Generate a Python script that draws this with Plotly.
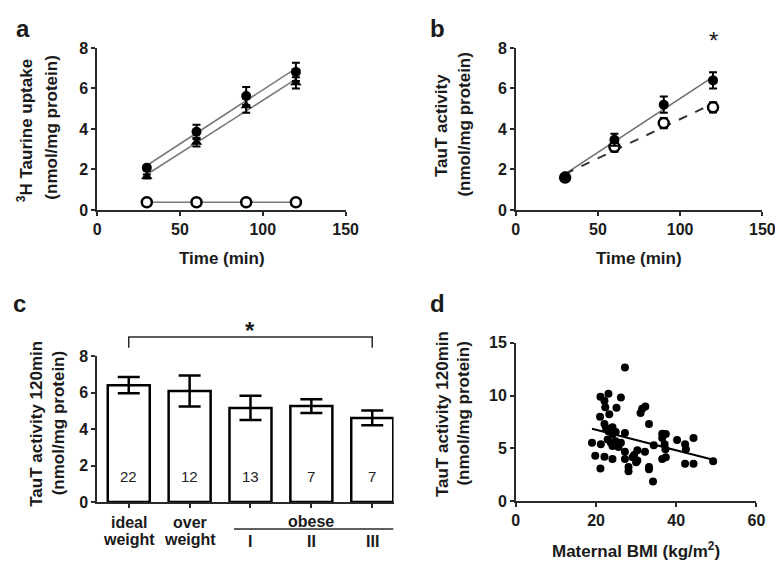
import numpy as np
import plotly.graph_objects as go

W, H = 783, 564

# ---------------- data ----------------
# Panel a: 3H taurine uptake vs time
time_a = [30, 60, 90, 120]
uptake_circle = [2.08, 3.86, 5.63, 6.82]
uptake_circle_err = [0.12, 0.35, 0.45, 0.45]
uptake_triangle = [1.65, 3.35, 5.15, 6.28]
uptake_triangle_err = [0.1, 0.22, 0.35, 0.28]
uptake_open = [0.38, 0.38, 0.38, 0.38]
uptake_open_err = [0.03, 0.03, 0.03, 0.03]

# Panel b: TauT activity vs time
time_b = [30, 60, 90, 120]
taut_filled = [1.65, 3.47, 5.2, 6.4]
taut_filled_err = [0.1, 0.3, 0.4, 0.4]
taut_open = [1.6, 3.12, 4.29, 5.07]
taut_open_err = [0.1, 0.25, 0.25, 0.25]

# Panel c: TauT activity at 120 min by BMI group
bmi_groups = ["ideal<br>weight", "over<br>weight", "I", "II", "III"]
group_mean = [6.42, 6.1, 5.17, 5.27, 4.62]
group_err = [0.45, 0.85, 0.67, 0.38, 0.4]
group_n = ["22", "12", "13", "7", "7"]

# Panel d: TauT activity vs maternal BMI
bmi = [27.2, 21.1, 23.1, 26.2, 22.1, 22.3, 25.1, 31.5, 32.3, 31.1,
       23.3, 21.0, 33.2, 22.1, 22.5, 24.1, 23.1, 24.9, 24.1, 27.2,
       36.5, 37.4, 36.5, 40.2, 44.3, 19.0, 21.2, 22.9, 23.7, 24.9,
       26.2, 24.1, 25.6, 34.4, 37.1, 37.3, 42.2, 42.4, 27.2, 30.3,
       32.2, 29.5, 19.8, 22.1, 24.1, 27.2, 29.1, 30.3, 36.5, 37.4,
       42.2, 44.3, 49.2, 21.1, 28.1, 28.1, 33.2, 33.2, 34.2, 30.0]
activity = [12.67, 9.88, 10.18, 9.82, 9.5, 8.9, 8.83, 8.74, 8.96, 8.34,
            8.22, 7.98, 7.3, 7.3, 6.9, 7.0, 6.6, 6.53, 6.3, 6.44,
            6.38, 6.35, 5.98, 5.77, 5.98, 5.52, 5.37, 5.83, 5.52, 5.67,
            5.52, 5.21, 5.12, 5.28, 5.37, 4.91, 5.37, 4.91, 4.66, 4.82,
            4.66, 4.36, 4.29, 4.2, 3.99, 3.99, 4.14, 3.83, 3.99, 4.14,
            3.53, 3.53, 3.77, 3.07, 3.22, 2.82, 3.22, 3.0, 1.84, 3.68]

# ---------------- styling ----------------
FONT = "Arial, Liberation Sans, sans-serif"
TXT = "#1a1a1a"
AX = "#2a2a2a"
TITLE_SIZE = 17


def fit_line(x, y, xs):
    k, b = np.polyfit(x, y, 1)
    xs = np.asarray(xs, dtype=float)
    return xs, k * xs + b


def px(x):
    return x / W


def py(y):
    return 1 - y / H


fig = go.Figure()

# ---- panel a ----
for ys in (uptake_circle, uptake_triangle):
    lx, ly = fit_line(time_a, ys, [min(time_a), max(time_a)])
    fig.add_trace(go.Scatter(x=lx, y=ly, mode="lines", line=dict(color="#7a7a7a", width=1.6),
                             xaxis="x", yaxis="y", hoverinfo="skip"))
fig.add_trace(go.Scatter(x=time_a, y=uptake_open, mode="lines", line=dict(color="#7a7a7a", width=1.6),
                         xaxis="x", yaxis="y", hoverinfo="skip"))
fig.add_trace(go.Scatter(x=time_a, y=uptake_triangle, mode="markers",
                         marker=dict(symbol="triangle-up", size=10, color="black"),
                         error_y=dict(type="data", array=uptake_triangle_err, color="black", thickness=2, width=4),
                         xaxis="x", yaxis="y"))
fig.add_trace(go.Scatter(x=time_a, y=uptake_circle, mode="markers",
                         marker=dict(symbol="circle", size=10, color="black"),
                         error_y=dict(type="data", array=uptake_circle_err, color="black", thickness=2, width=4),
                         xaxis="x", yaxis="y"))
fig.add_trace(go.Scatter(x=time_a, y=uptake_open, mode="markers",
                         marker=dict(symbol="circle", size=10, color="white", line=dict(color="black", width=2.5)),
                         error_y=dict(type="data", array=uptake_open_err, color="black", thickness=1, width=0),
                         xaxis="x", yaxis="y"))

# ---- panel b ----
lx, ly = fit_line(time_b, taut_filled, [min(time_b), max(time_b)])
fig.add_trace(go.Scatter(x=lx, y=ly, mode="lines", line=dict(color="#6f6f6f", width=1.6),
                         xaxis="x2", yaxis="y2", hoverinfo="skip"))
lx, ly = fit_line(time_b, taut_open, [min(time_b), max(time_b)])
fig.add_trace(go.Scatter(x=lx, y=ly, mode="lines", line=dict(color="#333333", width=2, dash="dash"),
                         xaxis="x2", yaxis="y2", hoverinfo="skip"))
fig.add_trace(go.Scatter(x=time_b, y=taut_open, mode="markers",
                         marker=dict(symbol="circle", size=10, color="white", line=dict(color="black", width=2.5)),
                         error_y=dict(type="data", array=taut_open_err, color="black", thickness=2, width=4),
                         xaxis="x2", yaxis="y2"))
fig.add_trace(go.Scatter(x=time_b, y=taut_filled, mode="markers",
                         marker=dict(symbol="circle", size=10, color="black"),
                         error_y=dict(type="data", array=taut_filled_err, color="black", thickness=2, width=4),
                         xaxis="x2", yaxis="y2"))

# ---- panel c ----
idx = list(range(len(group_mean)))
fig.add_trace(go.Bar(x=idx, y=group_mean, width=0.69,
                     marker=dict(color="white", line=dict(color="black", width=2.5)),
                     error_y=dict(type="data", array=group_err, color="black", thickness=2.5, width=11),
                     xaxis="x3", yaxis="y3"))

# ---- panel d ----
fig.add_trace(go.Scatter(x=bmi, y=activity, mode="markers",
                         marker=dict(symbol="circle", size=8, color="black"),
                         xaxis="x4", yaxis="y4"))
lx, ly = fit_line(bmi, activity, [min(bmi), max(bmi)])
fig.add_trace(go.Scatter(x=lx, y=ly, mode="lines", line=dict(color="black", width=2),
                         xaxis="x4", yaxis="y4", hoverinfo="skip"))

# ---------------- axes ----------------
tickfont = dict(family=FONT, size=16, color=TXT, weight="bold")
common = dict(showline=True, linecolor=AX, linewidth=1.5, ticks="outside", ticklen=4,
              tickwidth=1.5, tickcolor=AX, showgrid=False, zeroline=False, tickfont=tickfont)

fig.update_layout(
    xaxis=dict(domain=[px(87), px(341)], range=[0, 150], tickvals=[0, 50, 100, 150], anchor="y", **common),
    yaxis=dict(domain=[py(200), py(33)], range=[0, 8], tickvals=[0, 2, 4, 6, 8], anchor="x", **common),
    xaxis2=dict(domain=[px(515), px(767)], range=[0, 150], tickvals=[0, 50, 100, 150], anchor="y2", **common),
    yaxis2=dict(domain=[py(200), py(33)], range=[0, 8], tickvals=[0, 2, 4, 6, 8], anchor="x2", **common),
    xaxis3=dict(domain=[px(87), px(390)], range=[-0.52, 4.35], tickvals=idx, showticklabels=False,
                anchor="y3", **common),
    yaxis3=dict(domain=[py(501), py(351)], range=[0, 8], tickvals=[0, 2, 4, 6, 8], anchor="x3", **common),
    xaxis4=dict(domain=[px(515), px(761)], range=[0, 60], tickvals=[0, 20, 40, 60], anchor="y4", **common),
    yaxis4=dict(domain=[py(500), py(337)], range=[0, 15], tickvals=[0, 5, 10, 15], anchor="x4", **common),
)

# ---------------- text ----------------
ann = []


def label(text, x, y, size=TITLE_SIZE, angle=0, bold=True, xref="paper", yref="paper", color=TXT):
    ann.append(dict(text=text, x=x, y=y, xref=xref, yref=yref, showarrow=False,
                    xanchor="center", yanchor="middle", textangle=angle,
                    font=dict(family=FONT, size=size, color=color, weight="bold" if bold else "normal")))


# panel letters
label("a", px(11), py(13), size=24)
label("b", px(435), py(13), size=24)
label("c", px(8), py(296), size=24)
label("d", px(435), py(296), size=24)

# y titles
label("<sup>3</sup>H Taurine uptake", px(14), py(118), angle=-90)
label("(nmol/mg protein)", px(40), py(115), angle=-90)
label("TauT activity", px(439), py(113), angle=-90)
label("(nmol/mg protein)", px(463), py(112), angle=-90)
label("TauT activity 120min", px(25), py(420), angle=-90)
label("(nmol/mg protein)", px(47), py(420), angle=-90)
label("TauT activity 120min", px(440), py(410), angle=-90)
label("(nmol/mg protein)", px(462), py(410), angle=-90)

# x titles
label("Time (min)", px(215), py(250))
label("Time (min)", px(641), py(250))
label("Maternal BMI (kg/m<sup>2</sup>)", px(638), py(551))

# panel b significance (above the 120 min point)
label("*", time_b[-1], 1.045, size=24, bold=False, xref="x2", yref="y2 domain")

# panel c category labels
for i, t in enumerate(bmi_groups):
    if "<br>" in t:
        top, bot = t.split("<br>")
        label(top, i, py(522), size=16, xref="x3")
        label(bot, i, py(540), size=16, xref="x3")
    else:
        label(t, i, py(542), size=16, xref="x3")
label("obese", 3, py(521), size=16, xref="x3")
for i, n in enumerate(group_n):
    label(n, i, 1.4, size=15, bold=False, xref="x3", yref="y3", color="#222")
label("*", 2, 1.18, size=24, xref="x3", yref="y3 domain")

fig.update_layout(annotations=ann)

# panel c bracket and obese line
fig.add_shape(type="path", xref="x3", yref="y3 domain",
              path="M 0,1.06 L 0,1.133 L 4,1.133 L 4,1.06",
              line=dict(color=AX, width=1.5))
fig.add_shape(type="line", xref="x3", yref="paper", x0=1.73, x1=4.35, y0=py(529), y1=py(529),
              line=dict(color=AX, width=1.5))

fig.update_layout(width=W, height=H, margin=dict(l=0, r=0, t=0, b=0),
                  paper_bgcolor="white", plot_bgcolor="white", showlegend=False,
                  font=dict(family=FONT, color=TXT))

fig.write_html("out.html")
